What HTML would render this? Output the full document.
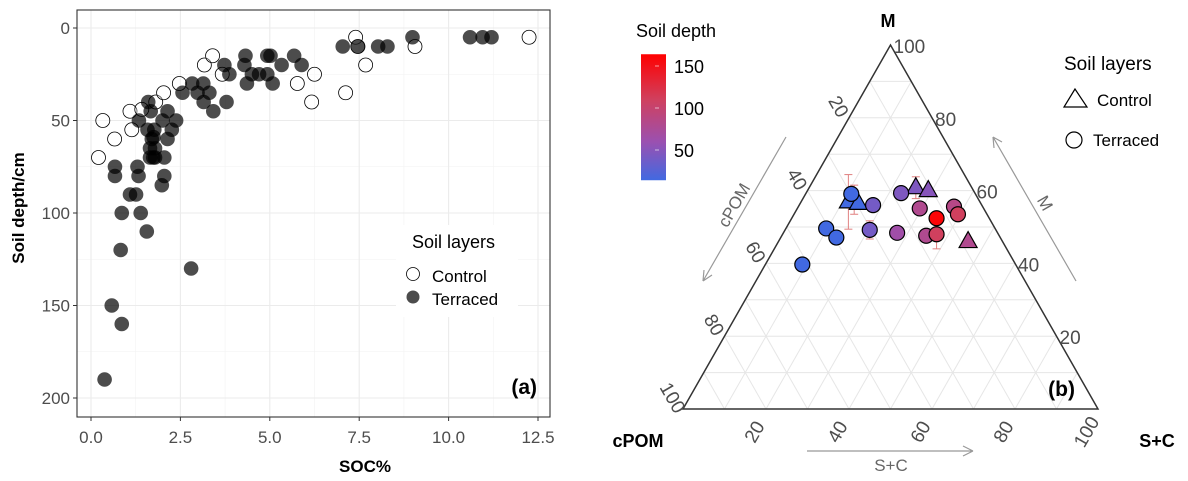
<!DOCTYPE html>
<html><head><meta charset="utf-8"><style>
body{margin:0;background:#fff;}
svg{display:block;font-family:"Liberation Sans",Arial,sans-serif;}
</style></head><body>
<svg id="svg" width="1188" height="481" viewBox="0 0 1188 481" xmlns="http://www.w3.org/2000/svg">
<rect width="1188" height="481" fill="#fff"/>
<g id="left"></g>
<g id="right"></g>
</svg>
<script>
// ---------- Panel (a) data ----------
const controlSOC=[0.33,0.21,0.66,1.09,1.14,1.42,1.81,2.03,2.47,3.17,3.4,3.67,5.77,6.25,6.17,7.12,7.4,7.46,7.68,9.06,12.25];
const controlDepth=[50,70,60,45,55,44,40,35,30,20,15,25,30,25,40,35,5,10,20,10,5];
const terrSOC=[0.38,0.58,0.86,0.83,1.56,2.8,0.86,1.39,1.09,1.26,0.67,0.67,1.3,1.33,1.98,2.05,2.05,1.74,1.65,1.79,1.65,1.79,1.7,1.75,1.58,1.77,1.34,2.0,2.38,2.14,2.26,2.14,1.6,1.67,2.56,2.83,2.98,3.14,3.31,3.15,3.42,3.79,3.73,3.87,4.32,4.29,4.36,4.5,4.7,4.93,4.93,5.02,5.08,5.33,5.68,5.89,7.04,7.47,8.03,8.29,8.99,10.6,10.95,11.2];
const terrDepth=[190,150,160,120,110,130,100,100,90,90,75,80,75,80,85,80,70,70,70,70,65,65,60,59,55,55,50,50,50,60,55,45,40,45,35,30,35,30,35,40,45,40,20,25,15,20,30,25,25,25,15,15,30,20,15,20,10,10,10,10,5,5,5,5];
const xTicks=[0,2.5,5,7.5,10,12.5];
const xTickLabels=["0.0","2.5","5.0","7.5","10.0","12.5"];
const yTicks=[0,50,100,150,200];
const yTickLabels=["0","50","100","150","200"];

// ---------- Panel (b) data ----------
const triM=[56.9,56.5,60.8,60.0,46.0];
const triSC=[11.4,14.0,25.7,29.1,45.7];
const triDepth=[10,10,45,50,80];
const cirM=[59.1,49.6,47.1,39.7,56.0,49.2,59.3,48.4,55.1,47.6,48.0,52.4,55.6,53.5];
const cirSC=[11.0,9.7,13.4,8.9,17.8,20.4,22.9,27.4,29.5,34.8,37.1,34.9,37.5,39.5];
const cirDepth=[5,5,5,5,40,40,45,65,80,80,110,160,85,110];
const errM=[56.9,49.2,60.8,48.0,57.5];
const errSC=[11.4,20.4,25.7,37.1,12.5];
const errHalf=[7.5,2.5,3,4,4];
const ternTicks=[20,40,60,80,100];
const cbTicks=[50,100,150];

const NS="http://www.w3.org/2000/svg";
function mk(tag,attrs,parent,txt){const e=document.createElementNS(NS,tag);for(const k in attrs)e.setAttribute(k,attrs[k]);if(txt!==undefined)e.textContent=txt;parent.appendChild(e);return e;}

// ---- Panel a ----
const L=document.getElementById('left');
const px0=77,px1=550,py0=10,py1=417;
const sx=v=>91+v*(538-91)/12.5;
const sy=v=>28+v*(398-28)/200;
for(let i=0;i<xTicks.length-1;i++){const g=mk('line',{x1:sx((xTicks[i]+xTicks[i+1])/2),x2:sx((xTicks[i]+xTicks[i+1])/2),y1:py0,y2:py1,stroke:'#f2f2f2','stroke-width':0.6},L);}
for(let i=0;i<yTicks.length-1;i++){const g=mk('line',{x1:px0,x2:px1,y1:sy((yTicks[i]+yTicks[i+1])/2),y2:sy((yTicks[i]+yTicks[i+1])/2),stroke:'#f2f2f2','stroke-width':0.6},L);}
xTicks.forEach((t,i)=>{
 const g=mk('line',{x1:sx(t),x2:sx(t),y1:py0,y2:py1,stroke:'#ebebeb','stroke-width':1.1},L);
 
 const tk=mk('line',{x1:sx(t),x2:sx(t),y1:py1,y2:py1+4,stroke:'#333'},L);
 
 const tl=mk('text',{x:sx(t),y:443,'text-anchor':'middle','font-size':17,fill:'#4d4d4d'},L,xTickLabels[i]);
 
});
yTicks.forEach((t,i)=>{
 const g=mk('line',{x1:px0,x2:px1,y1:sy(t),y2:sy(t),stroke:'#ebebeb','stroke-width':1.1},L);
 
 const tk=mk('line',{x1:px0-4,x2:px0,y1:sy(t),y2:sy(t),stroke:'#333'},L);
 
 const tl=mk('text',{x:70,y:sy(t)+6,'text-anchor':'end','font-size':17,fill:'#4d4d4d'},L,yTickLabels[i]);
 
});
controlSOC.forEach((v,i)=>{const c=mk('circle',{cx:sx(v),cy:sy(controlDepth[i]),r:7,fill:'#fff','fill-opacity':0.3,stroke:'#000','stroke-width':0.8},L);});
terrSOC.forEach((v,i)=>{const c=mk('circle',{cx:sx(v),cy:sy(terrDepth[i]),r:7.3,fill:'#000','fill-opacity':0.7},L);});
let b=mk('rect',{x:px0,y:py0,width:px1-px0,height:py1-py0,fill:'none',stroke:'#333','stroke-width':1.1},L);
let t=mk('text',{x:365,y:472,'text-anchor':'middle','font-size':17,'font-weight':'bold'},L,'SOC%');
t=mk('text',{x:0,y:0,'text-anchor':'middle','font-size':17,'font-weight':'bold',transform:'translate(24,208) rotate(-90)'},L,'Soil depth/cm');
let lg=mk('g',{},L);
mk('rect',{x:396,y:225,width:122,height:92,fill:'#fff'},lg);
mk('text',{x:412,y:248,'font-size':18},lg,'Soil layers');
mk('circle',{cx:413,cy:274,r:6.5,fill:'#fff',stroke:'#000','stroke-width':0.8},lg);
mk('text',{x:432,y:282,'font-size':17},lg,'Control');
mk('circle',{cx:413,cy:297,r:6.5,fill:'#000','fill-opacity':0.7},lg);
mk('text',{x:432,y:305,'font-size':17},lg,'Terraced');
t=mk('text',{x:537,y:394,'text-anchor':'end','font-size':21,'font-weight':'bold'},L,'(a)');

// ---- Panel b ----
const R=document.getElementById('right');
const BLx=683,BLy=409,W=415,H=364;
const tx=(m,sc)=>BLx+(sc+m/2)/100*W;
const ty=m=>BLy-m/100*H;
for(let v=10;v<100;v+=10){
 let g=mk('line',{x1:tx(v,0),y1:ty(v),x2:tx(v,100-v),y2:ty(v),stroke:'#e6e6e6'},R);
 g=mk('line',{x1:tx(0,v),y1:ty(0),x2:tx(100-v,v),y2:ty(100-v),stroke:'#e6e6e6'},R);
 g=mk('line',{x1:tx(0,100-v),y1:ty(0),x2:tx(100-v,0),y2:ty(100-v),stroke:'#e6e6e6'},R);
}
let tri=mk('polygon',{points:`${tx(0,0)},${ty(0)} ${tx(100,0)},${ty(100)} ${tx(0,100)},${ty(0)}`,fill:'none',stroke:'#333','stroke-width':1.5},R);
ternTicks.forEach(v=>{
 let l=mk('text',{x:tx(v,100-v)+3,y:ty(v)+8,'font-size':19,fill:'#4d4d4d'},R,String(v));
 const lx=tx(100-v,0)-16,ly=ty(100-v)-8;
 l=mk('text',{x:lx,y:ly,'font-size':19,fill:'#4d4d4d','text-anchor':'middle',transform:`rotate(60 ${lx} ${ly})`},R,String(v));
 const bx=tx(0,v)-6,by=ty(0)+26;
 l=mk('text',{x:bx,y:by,'font-size':19,fill:'#4d4d4d','text-anchor':'middle',transform:`rotate(-60 ${bx} ${by})`},R,String(v));
});
const cStops=[[14,[65,105,225]],[60,[155,80,176]],[110,[208,64,94]],[164,[255,0,0]]];
function col(d){if(d<=cStops[0][0])return `rgb(${cStops[0][1]})`;for(let i=1;i<cStops.length;i++){if(d<=cStops[i][0]){const a=cStops[i-1],bb=cStops[i],f=(d-a[0])/(bb[0]-a[0]);return 'rgb('+a[1].map((c,k)=>Math.round(c+(bb[1][k]-c)*f)).join(',')+')';}}return 'rgb(255,0,0)';}
errM.forEach((m,i)=>{const x=tx(m,errSC[i]);const y1=ty(m+errHalf[i]),y2=ty(m-errHalf[i]);
 const g=mk('g',{stroke:'#e08080','stroke-width':1},R);
 mk('line',{x1:x,x2:x,y1:y1,y2:y2},g);mk('line',{x1:x-4,x2:x+4,y1:y1,y2:y1},g);mk('line',{x1:x-4,x2:x+4,y1:y2,y2:y2},g);});
triM.forEach((m,i)=>{const x=tx(m,triSC[i]),y=ty(m);const p=mk('polygon',{points:`${x},${y-10} ${x-9},${y+6} ${x+9},${y+6}`,fill:col(triDepth[i]),stroke:'#000','stroke-width':1.2},R);});
cirM.forEach((m,i)=>{const c=mk('circle',{cx:tx(m,cirSC[i]),cy:ty(m),r:7.5,fill:col(cirDepth[i]),stroke:'#000','stroke-width':1.2},R);});
t=mk('text',{x:888,y:27,'text-anchor':'middle','font-size':18,'font-weight':'bold'},R,'M');
t=mk('text',{x:638,y:447,'text-anchor':'middle','font-size':18,'font-weight':'bold'},R,'cPOM');
t=mk('text',{x:1157,y:447,'text-anchor':'middle','font-size':18,'font-weight':'bold'},R,'S+C');
const ar=mk('g',{stroke:'#999','stroke-width':1.2,fill:'none'},R);
mk('path',{d:'M786,137 L703,281 M703,281 L704,270 M703,281 L712,275'},ar);
mk('path',{d:'M1076,281 L993,137 M993,137 L1002,142 M993,137 L994,148'},ar);
mk('path',{d:'M807,451 L973,451 M973,451 L963,446 M973,451 L963,456'},ar);
t=mk('text',{x:0,y:0,'font-size':17,fill:'#666','text-anchor':'middle',transform:'translate(739,208) rotate(-60)'},R,'cPOM');
t=mk('text',{x:0,y:0,'font-size':17,fill:'#666','text-anchor':'middle',transform:'translate(1040,206) rotate(60)'},R,'M');
t=mk('text',{x:891,y:471,'font-size':17,fill:'#666','text-anchor':'middle'},R,'S+C');
t=mk('text',{x:1075,y:396,'text-anchor':'end','font-size':21,'font-weight':'bold'},R,'(b)');
const defs=mk('defs',{},R);const gr=mk('linearGradient',{id:'cb',x1:0,y1:1,x2:0,y2:0},defs);
cStops.forEach(s=>mk('stop',{offset:(s[0]-14)/150,'stop-color':`rgb(${s[1]})`},gr));
const cbY=d=>192-d*0.84;
let cb=mk('rect',{x:641,y:cbY(164),width:25,height:cbY(14)-cbY(164),fill:'url(#cb)'},R);
cbTicks.forEach(v=>{const l=mk('text',{x:674,y:cbY(v)+7,'font-size':18},R,String(v));
 mk('line',{x1:655,x2:659,y1:cbY(v),y2:cbY(v),stroke:'#fff','stroke-opacity':0.6},R);});
t=mk('text',{x:636,y:37,'font-size':18},R,'Soil depth');
const lb=mk('g',{},R);
mk('text',{x:1064,y:70,'font-size':19},lb,'Soil layers');
mk('polygon',{points:'1075,89 1064,107 1087,107',fill:'none',stroke:'#000','stroke-width':1.2},lb);
mk('text',{x:1097,y:106,'font-size':17},lb,'Control');
mk('circle',{cx:1074,cy:140,r:8,fill:'none',stroke:'#000','stroke-width':1.2},lb);
mk('text',{x:1093,y:146,'font-size':17},lb,'Terraced');
</script>
</body></html>
